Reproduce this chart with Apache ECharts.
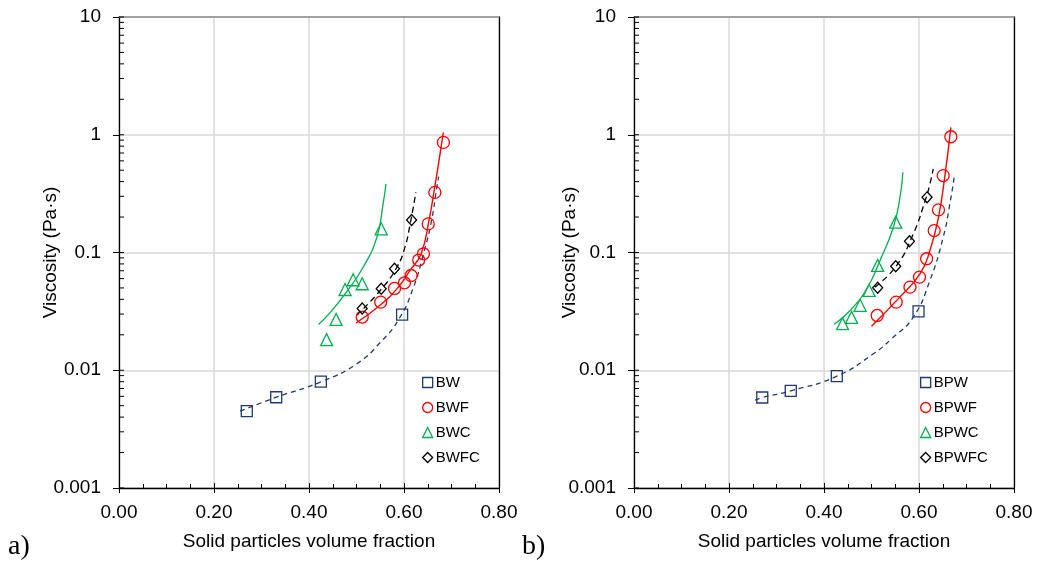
<!DOCTYPE html>
<html>
<head>
<meta charset="utf-8">
<script src="https://cdn.jsdelivr.net/npm/echarts@6/dist/echarts.min.js"></script>
<style>
  html, body { margin: 0; padding: 0; background: #fff; }
  #chart { width: 1039px; height: 570px; }
</style>
</head>
<body>
<div id="chart"></div>
<script>
// ---------- Tick labels ----------
const xTickValues = [0.00, 0.20, 0.40, 0.60, 0.80];
const yTickValues = [0.001, 0.01, 0.1, 1, 10];
const yInnerTicks = [
  0.001, 0.002, 0.003, 0.004, 0.005, 0.006, 0.007, 0.008, 0.009,
  0.01, 0.02, 0.03, 0.04, 0.05, 0.06, 0.07, 0.08, 0.09,
  0.1, 0.2, 0.3, 0.4, 0.5, 0.6, 0.7, 0.8, 0.9,
  1, 2, 3, 4, 5, 6, 7, 8, 9, 10
];

// ---------- Panel a) measured data ----------
const bwX   = [0.269, 0.331, 0.425, 0.596];
const bwY   = [0.0045, 0.0059, 0.0080, 0.0297];
const bwfX  = [0.512, 0.551, 0.580, 0.601, 0.615, 0.631, 0.641, 0.651, 0.665, 0.683];
const bwfY  = [0.0283, 0.0379, 0.0495, 0.0553, 0.0638, 0.0863, 0.0975, 0.175, 0.324, 0.861];
const bwcX  = [0.437, 0.457, 0.476, 0.493, 0.512, 0.552];
const bwcY  = [0.0182, 0.0270, 0.0485, 0.0587, 0.0543, 0.159];
const bwfcX = [0.512, 0.552, 0.580, 0.616];
const bwfcY = [0.0334, 0.0492, 0.0727, 0.189];

// ---------- Panel a) fitted curves (read from picture) ----------
const bwFitX   = [0.255, 0.331, 0.426, 0.500, 0.550, 0.590, 0.620, 0.641, 0.658, 0.669, 0.673];
const bwFitY   = [0.0045, 0.0059, 0.0080, 0.0113, 0.0172, 0.0275, 0.0508, 0.0975, 0.187, 0.357, 0.44];
const bwfFitX  = [0.499, 0.5495, 0.588, 0.6126, 0.636, 0.6526, 0.6646, 0.6758, 0.6827];
const bwfFitY  = [0.0252, 0.0356, 0.0508, 0.0704, 0.0975, 0.187, 0.357, 0.685, 1.045];
const bwcFitX  = [0.420, 0.444, 0.476, 0.514, 0.543, 0.556, 0.562];
const bwcFitY  = [0.0245, 0.0307, 0.0446, 0.075, 0.135, 0.259, 0.382];
const bwfcFitX = [0.500, 0.550, 0.585, 0.602, 0.613, 0.625];
const bwfcFitY = [0.0292, 0.0476, 0.0750, 0.111, 0.175, 0.324];

// ---------- Panel b) measured data ----------
const bpwX   = [0.270, 0.330, 0.427, 0.599];
const bpwY   = [0.00587, 0.00668, 0.0089, 0.0316];
const bpwfX  = [0.512, 0.552, 0.581, 0.601, 0.616, 0.632, 0.641, 0.651, 0.667];
const bpwfY  = [0.0292, 0.0379, 0.0508, 0.0618, 0.0885, 0.1535, 0.230, 0.450, 0.962];
const bpwcX  = [0.439, 0.458, 0.476, 0.495, 0.513, 0.551];
const bpwcY  = [0.0249, 0.0281, 0.0356, 0.0476, 0.0776, 0.181];
const bpwfcX = [0.513, 0.551, 0.580, 0.617];
const bpwfcY = [0.0502, 0.0765, 0.1247, 0.294];

// ---------- Panel b) fitted curves (read from picture) ----------
const bpwFitX   = [0.255, 0.270, 0.330, 0.427, 0.504, 0.543, 0.588, 0.623, 0.651, 0.665, 0.674];
const bpwFitY   = [0.00557, 0.00587, 0.00668, 0.0089, 0.0138, 0.0186, 0.0283, 0.0579, 0.135, 0.259, 0.435];
const bpwfFitX  = [0.500, 0.553, 0.602, 0.623, 0.641, 0.655, 0.667];
const bpwfFitY  = [0.0236, 0.0392, 0.0659, 0.104, 0.199, 0.465, 1.154];
const bpwcFitX  = [0.421, 0.455, 0.490, 0.518, 0.546, 0.560, 0.566];
const bpwcFitY  = [0.0245, 0.0322, 0.0492, 0.0856, 0.164, 0.294, 0.480];
const bpwfcFitX = [0.507, 0.553, 0.588, 0.613, 0.623, 0.630];
const bpwfcFitY = [0.0508, 0.0776, 0.144, 0.276, 0.382, 0.512];

// ---------- Styling ----------
const FONT = "'Liberation Sans', Arial, sans-serif";
const BLUE = '#1F3A70', RED = '#FF0000', GREEN = '#00B050', BLACK = '#000000';
const zip = (xs, ys) => xs.map((x, i) => [x, ys[i]]);

const xAxes = [], yAxes = [], series = [];

function buildPanel(gi, sets, fits, yNameGap) {
  const xBase = xAxes.length, yBase = yAxes.length;
  xAxes.push({
    gridIndex: gi, type: 'value', min: xTickValues[0], max: xTickValues[xTickValues.length - 1], interval: 0.2,
    position: 'bottom',
    axisLine: { show: true, onZero: false, lineStyle: { color: '#000', width: 1.3 } },
    axisTick: { show: true, inside: true, length: 5, lineStyle: { color: '#000', width: 1 } },
    minorTick: { show: true, splitNumber: 4, length: 4, lineStyle: { color: '#000', width: 1 } },
    axisLabel: { formatter: v => v.toFixed(2), fontSize: 19, color: '#000', fontFamily: FONT, margin: 15 },
    splitLine: { show: true, lineStyle: { color: '#d9d9d9', width: 1.5 } },
    name: 'Solid particles volume fraction', nameLocation: 'middle', nameGap: 44, nameMoveOverlap: false,
    nameTextStyle: { fontSize: 19, color: '#000', fontFamily: FONT }
  });
  xAxes.push({
    gridIndex: gi, type: 'value', min: 0, max: 0.8, interval: 0.2, position: 'bottom',
    axisLine: { show: false, onZero: false },
    axisTick: { show: true, inside: false, length: 5, lineStyle: { color: '#000', width: 1 } },
    axisLabel: { show: false }, splitLine: { show: false }
  });
  xAxes.push({
    gridIndex: gi, type: 'value', min: 0, max: 0.8, position: 'top',
    axisLine: { show: true, onZero: false, lineStyle: { color: '#8c8c8c', width: 1.5 } },
    axisTick: { show: false }, axisLabel: { show: false }, splitLine: { show: false }
  });
  yAxes.push({
    gridIndex: gi, type: 'log', logBase: 10, min: yTickValues[0], max: yTickValues[yTickValues.length - 1],
    position: 'left',
    axisLine: { show: true, onZero: false, lineStyle: { color: '#000', width: 1.3 } },
    axisTick: { show: true, inside: false, length: 6, lineStyle: { color: '#000', width: 1 } },
    axisLabel: { formatter: v => String(Number(v.toPrecision(1))), fontSize: 19, color: '#000', fontFamily: FONT, margin: 18 },
    splitLine: { show: true, lineStyle: { color: '#d9d9d9', width: 1.5 } },
    name: 'Viscosity (Pa·s)', nameLocation: 'middle', nameGap: yNameGap, nameRotate: 90, nameMoveOverlap: false,
    nameTextStyle: { fontSize: 19, color: '#000', fontFamily: FONT }
  });
  yAxes.push({
    gridIndex: gi, type: 'log', logBase: 10, min: 0.001, max: 10, position: 'right',
    axisLine: { show: true, onZero: false, lineStyle: { color: '#000', width: 1.3 } },
    axisTick: { show: false }, axisLabel: { show: false }, splitLine: { show: false }
  });

  // inner y ticks (log minor ticks)
  series.push({
    type: 'custom', xAxisIndex: xBase, yAxisIndex: yBase, silent: true, z: 5,
    data: yInnerTicks.map(v => [0, v]),
    renderItem: (params, api) => {
      const p = api.coord([api.value(0), api.value(1)]);
      return { type: 'line', shape: { x1: p[0], y1: p[1], x2: p[0] + 5, y2: p[1] },
               style: { stroke: '#000', lineWidth: 1 } };
    }
  });

  fits.forEach(f => {
    series.push({
      type: 'line', name: f.name, xAxisIndex: xBase, yAxisIndex: yBase,
      data: zip(f.x, f.y), showSymbol: false, symbol: 'none', smooth: 0.5,
      lineStyle: { color: f.color, width: f.width, type: f.dash || 'solid' },
      z: 2, silent: true
    });
  });
  sets.forEach(s => {
    series.push({
      type: 'scatter', name: s.name, xAxisIndex: xBase, yAxisIndex: yBase,
      data: zip(s.x, s.y), symbol: s.symbol, symbolSize: s.size,
      itemStyle: { color: 'rgba(255,255,255,0)', borderColor: s.color, borderWidth: 1.3, opacity: 1 },
      z: 3
    });
  });
}

const setsA = [
  { name: 'BW', x: bwX, y: bwY, symbol: 'rect', size: 11, color: BLUE },
  { name: 'BWF', x: bwfX, y: bwfY, symbol: 'circle', size: 12, color: RED },
  { name: 'BWC', x: bwcX, y: bwcY, symbol: 'triangle', size: 12, color: GREEN },
  { name: 'BWFC', x: bwfcX, y: bwfcY, symbol: 'diamond', size: [10, 11], color: BLACK }
];
const fitsA = [
  { name: 'BW fit', x: bwFitX, y: bwFitY, color: BLUE, width: 1.3, dash: [5, 4] },
  { name: 'BWF fit', x: bwfFitX, y: bwfFitY, color: RED, width: 1.4 },
  { name: 'BWC fit', x: bwcFitX, y: bwcFitY, color: GREEN, width: 1.3 },
  { name: 'BWFC fit', x: bwfcFitX, y: bwfcFitY, color: BLACK, width: 1.3, dash: [6, 4] }
];
const setsB = [
  { name: 'BPW', x: bpwX, y: bpwY, symbol: 'rect', size: 11, color: BLUE },
  { name: 'BPWF', x: bpwfX, y: bpwfY, symbol: 'circle', size: 12, color: RED },
  { name: 'BPWC', x: bpwcX, y: bpwcY, symbol: 'triangle', size: 12, color: GREEN },
  { name: 'BPWFC', x: bpwfcX, y: bpwfcY, symbol: 'diamond', size: [10, 11], color: BLACK }
];
const fitsB = [
  { name: 'BPW fit', x: bpwFitX, y: bpwFitY, color: BLUE, width: 1.3, dash: [5, 4] },
  { name: 'BPWF fit', x: bpwfFitX, y: bpwfFitY, color: RED, width: 1.4 },
  { name: 'BPWC fit', x: bpwcFitX, y: bpwcFitY, color: GREEN, width: 1.3 },
  { name: 'BPWFC fit', x: bpwfcFitX, y: bpwfcFitY, color: BLACK, width: 1.3, dash: [6, 4] }
];

buildPanel(0, setsA, fitsA, 59);
buildPanel(1, setsB, fitsB, 55);

function legendFor(sets, left) {
  return {
    orient: 'vertical', left: left, top: 375, padding: 0, itemWidth: 10, itemHeight: 10, itemGap: 10,
    selectedMode: false,
    textStyle: { fontSize: 15, color: '#000', fontFamily: FONT, padding: [0, 0, 0, -2] },
    data: sets.map(s => ({
      name: s.name,
      icon: s.symbol,
      itemStyle: { color: 'rgba(255,255,255,0)', borderColor: s.color, borderWidth: 1.3 }
    }))
  };
}

const chart = echarts.init(document.getElementById('chart'), null, { renderer: 'canvas' });
chart.setOption({
  animation: false,
  backgroundColor: '#ffffff',
  grid: [
    { left: 119, top: 17, width: 380, height: 471 },
    { left: 634, top: 17, width: 380, height: 471 }
  ],
  xAxis: xAxes,
  yAxis: yAxes,
  legend: [legendFor(setsA, 422), legendFor(setsB, 920)],
  graphic: [
    { type: 'text', left: 8, top: 533, style: { text: 'a)', font: "28px 'Liberation Serif', 'Times New Roman', serif", fill: '#000' } },
    { type: 'text', left: 522, top: 533, style: { text: 'b)', font: "28px 'Liberation Serif', 'Times New Roman', serif", fill: '#000' } }
  ],
  series: series
});
</script>
</body>
</html>
